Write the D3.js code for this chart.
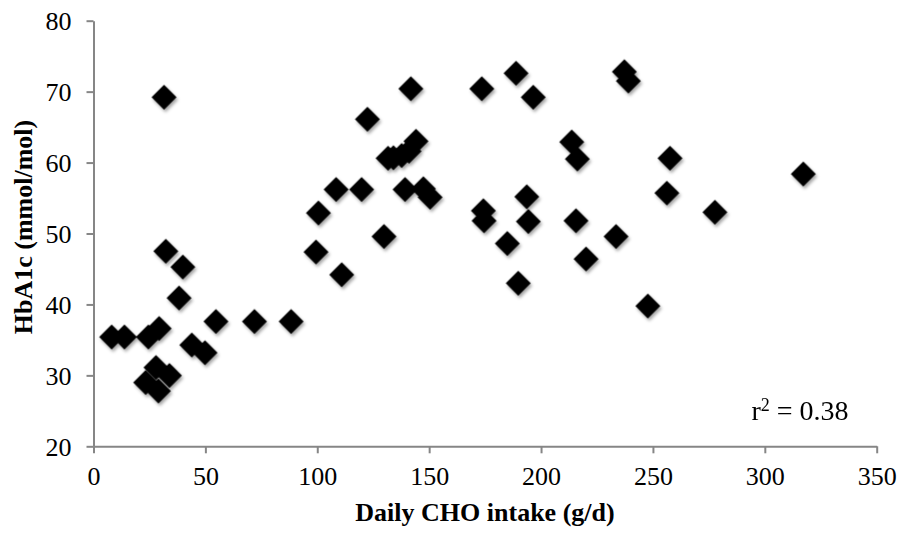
<!DOCTYPE html>
<html>
<head>
<meta charset="utf-8">
<script src="https://cdn.jsdelivr.net/npm/d3@7"></script>
<style>
  body { margin: 0; background: #fff; }
  svg text { font-family: "Liberation Serif", "Times New Roman", serif; }
</style>
</head>
<body>
<div id="chart"></div>
<script>
// daily CHO intake (g/d)
const choIntake = [
  8.1, 13.8, 24.5, 29.3, 23.3, 27.9, 33.9, 29.0, 31.5, 32.3,
  39.9, 38.2, 43.9, 49.8, 54.7, 71.9, 88.3, 99.4, 100.5, 108.4,
  110.9, 119.8, 122.4, 129.8, 131.6, 134.0, 137.7, 141.0, 144.1, 139.2,
  141.8, 147.4, 150.4, 173.5, 174.2, 174.5, 184.9, 188.8, 189.8, 193.6,
  194.3, 196.5, 213.7, 216.2, 215.6, 220.1, 233.5, 237.2, 239.0, 247.7,
  256.2, 257.6, 277.7, 317.2
];
// HbA1c (mmol/mol)
const hba1c = [
  35.4, 35.4, 35.4, 36.6, 29.0, 31.1, 30.0, 27.8, 69.2, 47.5,
  45.3, 40.9, 34.3, 33.2, 37.6, 37.6, 37.6, 47.4, 52.9, 56.2,
  44.2, 56.2, 66.1, 49.6, 60.6, 60.7, 61.0, 61.6, 63.0, 56.2,
  70.4, 56.3, 55.1, 70.4, 53.2, 51.8, 48.6, 72.6, 43.0, 55.2,
  51.7, 69.2, 62.9, 60.5, 51.8, 46.4, 49.6, 72.8, 71.5, 39.8,
  55.7, 60.6, 53.0, 58.4
];
const xTicks = [0, 50, 100, 150, 200, 250, 300, 350];
const yTicks = [20, 30, 40, 50, 60, 70, 80];
const rSquared = "0.38";

const points = choIntake.map((v, i) => ({ cho: v, hb: hba1c[i] }));

// =========================
// SVG SETUP
// =========================
const W = 901, H = 536;
const margin = { top: 20.7, right: 24.3, bottom: 89.7, left: 93.5 };
const width = W - margin.left - margin.right;
const height = H - margin.top - margin.bottom;

const root = d3.select("#chart").append("svg")
  .attr("width", W)
  .attr("height", H);

const defs = root.append("defs");
const shadow = defs.append("filter")
  .attr("id", "shadow")
  .attr("x", "-50%").attr("y", "-50%")
  .attr("width", "200%").attr("height", "200%");
shadow.append("feDropShadow")
  .attr("dx", 1.5).attr("dy", 2.5)
  .attr("stdDeviation", 1.8)
  .attr("flood-color", "#000")
  .attr("flood-opacity", 0.35);

const svg = root.append("g")
  .attr("transform", `translate(${margin.left},${margin.top})`);

// =========================
// SCALES
// =========================
const x = d3.scaleLinear().domain([0, 350]).range([0, width]);
const y = d3.scaleLinear().domain([20, 80]).range([height, 0]);

// =========================
// AXES
// =========================
const axisColor = "#868686";

const xAxis = svg.append("g")
  .attr("transform", `translate(0,${height})`)
  .call(d3.axisBottom(x).tickValues(xTicks).tickSize(7).tickSizeOuter(0).tickPadding(13));

const yAxis = svg.append("g")
  .call(d3.axisLeft(y).tickValues(yTicks).tickSize(7).tickSizeOuter(0).tickPadding(15));

[xAxis, yAxis].forEach(a => {
  a.select(".domain").attr("stroke", axisColor).attr("stroke-width", 2);
  a.selectAll(".tick line").attr("stroke", axisColor).attr("stroke-width", 2);
  a.selectAll(".tick text")
    .attr("fill", "#000")
    .style("font-family", "'Liberation Serif', serif")
    .style("font-size", "26px");
});
yAxis.selectAll(".tick text").attr("dy", "0.35em");

// =========================
// POINTS
// =========================
const diamond = d3.symbol().type(d3.symbolSquare).size(312);

svg.append("g")
  .attr("filter", "url(#shadow)")
  .selectAll("path")
  .data(points)
  .join("path")
  .attr("d", diamond)
  .attr("transform", d => `translate(${x(d.cho)},${y(d.hb)}) rotate(45)`)
  .attr("fill", "#000");

// =========================
// LABELS
// =========================
root.append("text")
  .attr("x", 485)
  .attr("y", 521)
  .attr("text-anchor", "middle")
  .style("font-size", "26px")
  .style("font-weight", "bold")
  .text("Daily CHO intake (g/d)");

root.append("text")
  .attr("transform", "translate(31.5,227) rotate(-90)")
  .attr("text-anchor", "middle")
  .style("font-size", "26px")
  .style("font-weight", "bold")
  .text("HbA1c (mmol/mol)");

const r2 = root.append("text")
  .attr("x", 800)
  .attr("y", 420)
  .attr("text-anchor", "middle")
  .style("font-size", "28px");
r2.append("tspan").text("r");
r2.append("tspan").attr("dy", -9).style("font-size", "18px").text("2");
r2.append("tspan").attr("dy", 9).text(" = " + rSquared);
</script>
</body>
</html>
